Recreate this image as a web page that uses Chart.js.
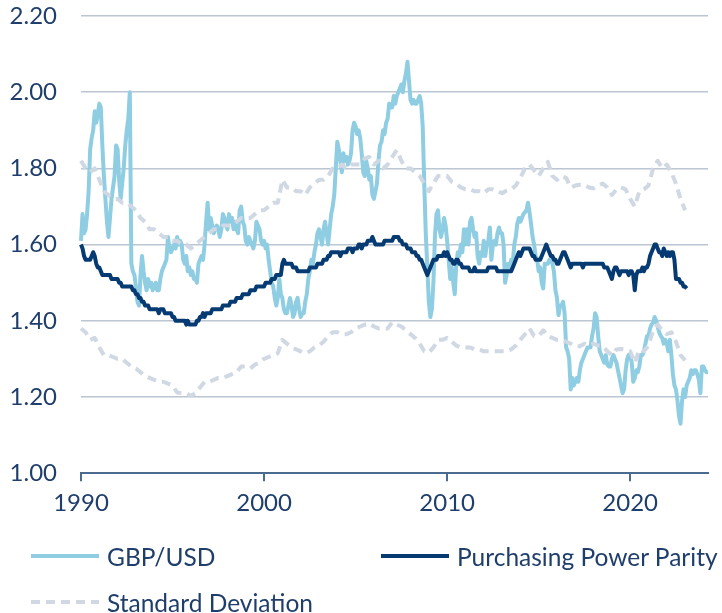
<!DOCTYPE html>
<html>
<head>
<meta charset="utf-8">
<script src="https://cdn.jsdelivr.net/npm/chart.js@4.4.1/dist/chart.umd.min.js"></script>
<style>
  html, body { margin: 0; padding: 0; background: #ffffff; }
  #wrap { position: relative; width: 722px; height: 613px; overflow: hidden; }
  #c { position: absolute; left: 0; top: 0; }
  #legend { position: absolute; left: 0; top: 0; width: 722px; height: 613px; pointer-events: none;
            font-family: Lato, sans-serif; font-size: 24.5px; color: #1f3e6c; }
  .item { position: absolute; display: flex; align-items: center; white-space: nowrap; height: 30px; }
  .item svg { display: block; margin-right: 8px; }
</style>
</head>
<body>
<div id="wrap">
  <canvas id="c" width="722" height="613"></canvas>
  <div id="legend"></div>
</div>
<script>
// ---- DATA (monthly from Jan 1990) ----
const startYear = 1990;
const seriesNames = ['GBP/USD', 'Purchasing Power Parity', 'Standard Deviation'];
const xTickYears = [1990, 2000, 2010, 2020];

const gbpUsd = [
  1.61,1.68,1.63,1.64,1.68,1.74,1.85,1.88,1.90,1.95,1.92,1.94,
  1.97,1.96,1.86,1.78,1.72,1.66,1.62,1.67,1.72,1.75,1.78,1.86,
  1.85,1.77,1.72,1.76,1.80,1.86,1.90,1.93,2.00,1.55,1.53,1.52,
  1.49,1.45,1.44,1.52,1.57,1.53,1.50,1.48,1.51,1.49,1.50,1.48,
  1.49,1.50,1.48,1.48,1.51,1.53,1.54,1.55,1.56,1.62,1.59,1.58,
  1.59,1.60,1.59,1.62,1.60,1.61,1.60,1.56,1.55,1.57,1.53,1.54,
  1.52,1.53,1.51,1.51,1.50,1.55,1.56,1.57,1.56,1.60,1.66,1.71,
  1.64,1.67,1.65,1.63,1.64,1.65,1.64,1.62,1.64,1.68,1.67,1.65,
  1.64,1.68,1.66,1.67,1.64,1.66,1.64,1.63,1.69,1.70,1.66,1.65,
  1.61,1.60,1.62,1.61,1.60,1.59,1.61,1.66,1.65,1.64,1.61,1.60,
  1.61,1.59,1.60,1.56,1.53,1.50,1.49,1.46,1.44,1.46,1.51,1.47,
  1.46,1.43,1.42,1.42,1.44,1.46,1.44,1.41,1.42,1.45,1.46,1.43,
  1.41,1.42,1.42,1.45,1.47,1.51,1.53,1.56,1.55,1.58,1.60,1.63,
  1.64,1.62,1.60,1.64,1.66,1.63,1.60,1.64,1.68,1.70,1.73,1.80,
  1.87,1.85,1.82,1.79,1.84,1.82,1.83,1.81,1.82,1.84,1.90,1.92,
  1.91,1.89,1.90,1.88,1.84,1.79,1.78,1.82,1.80,1.77,1.78,1.73,
  1.72,1.74,1.76,1.82,1.86,1.87,1.90,1.89,1.92,1.93,1.97,1.96,
  1.96,1.99,1.97,1.99,2.00,2.01,2.02,2.00,2.03,2.05,2.08,2.03,
  1.98,1.97,1.98,1.97,1.97,1.98,1.99,1.97,1.91,1.76,1.63,1.54,
  1.45,1.41,1.43,1.50,1.62,1.68,1.69,1.64,1.62,1.64,1.67,1.65,
  1.61,1.56,1.51,1.54,1.50,1.47,1.55,1.58,1.57,1.60,1.58,1.64,
  1.60,1.64,1.60,1.66,1.67,1.64,1.62,1.63,1.57,1.55,1.58,1.57,
  1.61,1.57,1.60,1.61,1.645,1.56,1.60,1.61,1.60,1.63,1.645,1.63,
  1.63,1.60,1.50,1.52,1.55,1.53,1.56,1.55,1.60,1.62,1.655,1.67,
  1.66,1.67,1.68,1.685,1.69,1.71,1.685,1.655,1.62,1.60,1.57,1.56,
  1.53,1.54,1.50,1.485,1.55,1.55,1.55,1.56,1.56,1.55,1.53,1.48,
  1.46,1.415,1.44,1.44,1.45,1.42,1.33,1.32,1.30,1.22,1.25,1.23,
  1.24,1.25,1.24,1.27,1.29,1.30,1.31,1.32,1.33,1.33,1.33,1.36,
  1.38,1.42,1.41,1.36,1.32,1.31,1.30,1.29,1.31,1.285,1.28,1.28,
  1.30,1.31,1.30,1.29,1.27,1.25,1.23,1.21,1.22,1.27,1.30,1.31,
  1.31,1.29,1.24,1.25,1.27,1.265,1.28,1.31,1.31,1.32,1.34,1.36,
  1.36,1.38,1.39,1.395,1.41,1.40,1.385,1.37,1.36,1.355,1.34,1.35,
  1.34,1.32,1.35,1.31,1.26,1.23,1.22,1.19,1.15,1.13,1.19,1.22,
  1.20,1.23,1.24,1.25,1.27,1.26,1.27,1.27,1.26,1.245,1.21,1.28,
  1.28,1.27,1.265,1.265
];

const ppp = [
  1.60,1.59,1.57,1.56,1.56,1.56,1.56,1.57,1.58,1.57,1.55,1.54,
  1.54,1.53,1.52,1.52,1.52,1.52,1.52,1.52,1.51,1.51,1.51,1.51,
  1.51,1.50,1.50,1.49,1.49,1.49,1.49,1.49,1.49,1.49,1.48,1.48,
  1.47,1.47,1.46,1.46,1.45,1.45,1.44,1.44,1.44,1.43,1.43,1.43,
  1.43,1.43,1.43,1.42,1.43,1.43,1.43,1.42,1.42,1.42,1.42,1.42,
  1.41,1.41,1.40,1.40,1.40,1.40,1.40,1.40,1.40,1.39,1.40,1.39,
  1.39,1.39,1.39,1.39,1.40,1.40,1.41,1.41,1.42,1.41,1.42,1.42,
  1.42,1.42,1.43,1.43,1.43,1.43,1.43,1.43,1.43,1.44,1.44,1.44,
  1.44,1.44,1.45,1.45,1.45,1.45,1.46,1.46,1.46,1.46,1.47,1.47,
  1.47,1.47,1.47,1.48,1.48,1.48,1.48,1.49,1.49,1.49,1.49,1.49,
  1.49,1.50,1.50,1.50,1.50,1.51,1.51,1.51,1.52,1.52,1.52,1.52,
  1.55,1.56,1.55,1.55,1.55,1.55,1.55,1.54,1.54,1.54,1.53,1.53,
  1.53,1.53,1.53,1.53,1.53,1.53,1.54,1.54,1.54,1.54,1.54,1.55,
  1.55,1.55,1.55,1.56,1.56,1.56,1.57,1.57,1.58,1.58,1.58,1.58,
  1.58,1.58,1.57,1.58,1.58,1.58,1.58,1.59,1.59,1.59,1.58,1.59,
  1.59,1.59,1.60,1.60,1.59,1.60,1.60,1.60,1.61,1.61,1.61,1.62,
  1.61,1.60,1.60,1.60,1.60,1.60,1.60,1.61,1.61,1.61,1.61,1.61,
  1.61,1.62,1.62,1.62,1.62,1.61,1.61,1.60,1.60,1.60,1.59,1.59,
  1.59,1.58,1.58,1.58,1.57,1.57,1.56,1.56,1.55,1.54,1.53,1.52,
  1.53,1.54,1.55,1.56,1.56,1.56,1.57,1.57,1.57,1.57,1.58,1.57,
  1.58,1.57,1.56,1.56,1.55,1.55,1.56,1.56,1.55,1.55,1.54,1.54,
  1.54,1.54,1.54,1.53,1.53,1.53,1.54,1.53,1.53,1.53,1.53,1.53,
  1.53,1.53,1.53,1.54,1.54,1.54,1.54,1.54,1.54,1.53,1.53,1.53,
  1.53,1.53,1.53,1.53,1.53,1.53,1.53,1.54,1.55,1.56,1.57,1.58,
  1.57,1.58,1.59,1.59,1.59,1.59,1.59,1.58,1.57,1.57,1.56,1.56,
  1.56,1.56,1.57,1.58,1.59,1.60,1.59,1.58,1.57,1.57,1.56,1.56,
  1.55,1.55,1.56,1.57,1.58,1.58,1.57,1.56,1.55,1.54,1.55,1.55,
  1.55,1.55,1.55,1.55,1.55,1.54,1.55,1.55,1.55,1.55,1.55,1.55,
  1.55,1.55,1.55,1.55,1.55,1.55,1.55,1.54,1.54,1.54,1.53,1.52,
  1.51,1.53,1.54,1.54,1.53,1.52,1.53,1.53,1.53,1.53,1.53,1.52,
  1.53,1.53,1.52,1.48,1.52,1.53,1.53,1.53,1.54,1.53,1.54,1.54,
  1.55,1.57,1.58,1.59,1.60,1.60,1.59,1.58,1.58,1.57,1.59,1.58,
  1.57,1.58,1.57,1.58,1.58,1.56,1.51,1.51,1.51,1.50,1.50,1.49,
  1.49,1.485
];

// Standard deviation bands, quarterly (Jan, Apr, Jul, Oct)
const sdUpper = [
  1.82,1.80,1.79,1.80,  1.77,1.74,1.73,1.72,  1.72,1.71,1.71,1.70,  1.69,1.67,1.66,1.64,
  1.64,1.63,1.62,1.62,  1.61,1.61,1.60,1.60,  1.59,1.60,1.61,1.62,  1.63,1.64,1.64,1.65,
  1.65,1.65,1.66,1.67,  1.67,1.67,1.68,1.69,  1.69,1.70,1.71,1.71,  1.77,1.75,1.75,1.74,
  1.74,1.73,1.75,1.76,  1.77,1.77,1.78,1.80,  1.80,1.81,1.80,1.81,  1.81,1.81,1.826,1.83,
  1.81,1.82,1.80,1.81,  1.83,1.848,1.82,1.80, 1.80,1.79,1.78,1.76,  1.74,1.76,1.78,1.78,
  1.78,1.765,1.76,1.75, 1.745,1.745,1.74,1.74, 1.735,1.745,1.745,1.74, 1.735,1.742,1.745,1.755,
  1.775,1.80,1.81,1.795, 1.78,1.80,1.817,1.78, 1.77,1.78,1.775,1.75, 1.755,1.757,1.757,1.75,
  1.748,1.755,1.76,1.75, 1.73,1.745,1.75,1.745, 1.72,1.70,1.74,1.745, 1.755,1.80,1.82,1.80,
  1.81,1.79,1.76,1.72,  1.69
];
const sdLower = [
  1.38,1.37,1.35,1.355, 1.33,1.31,1.31,1.305, 1.30,1.30,1.29,1.28,  1.275,1.265,1.255,1.25,
  1.245,1.24,1.24,1.235, 1.23,1.212,1.21,1.21, 1.203,1.21,1.225,1.24, 1.24,1.245,1.25,1.25,
  1.255,1.26,1.265,1.28, 1.28,1.275,1.285,1.29, 1.30,1.305,1.31,1.315, 1.35,1.34,1.33,1.325,
  1.32,1.315,1.32,1.33, 1.335,1.345,1.36,1.37, 1.37,1.365,1.365,1.37, 1.38,1.385,1.39,1.393,
  1.385,1.38,1.38,1.38, 1.396,1.39,1.385,1.375, 1.365,1.355,1.34,1.32, 1.317,1.33,1.35,1.35,
  1.355,1.345,1.335,1.33, 1.33,1.33,1.325,1.325, 1.32,1.32,1.32,1.32, 1.32,1.32,1.325,1.335,
  1.35,1.365,1.38,1.36, 1.36,1.375,1.36,1.355, 1.35,1.35,1.345,1.34, 1.333,1.333,1.34,1.335,
  1.34,1.335,1.333,1.32, 1.31,1.325,1.326,1.325, 1.32,1.29,1.325,1.32, 1.335,1.375,1.39,1.375,
  1.365,1.37,1.345,1.31, 1.296
];

// ---- build category labels (one per month) ----
const monthLabels = gbpUsd.map((_, i) => (startYear + Math.floor(i / 12)) + '-' + (i % 12 + 1));
const quarterly = arr => arr.map((v, i) => ({ x: monthLabels[i * 3], y: v }));

// ---- styles ----
const colGbp = '#8fcde2';
const colPpp = '#053a72';
const colSd = '#cfd8e3';
const colText = '#1f3e6c';
const colGrid = '#bcc6d3';
const colAxis = '#4b6a8f';
const FONT = 'Lato, "Open Sans", sans-serif';

function build() {
  const chart = new Chart(document.getElementById('c'), {
    type: 'line',
    data: {
      labels: monthLabels,
      datasets: [
        { label: seriesNames[1], data: ppp, borderColor: colPpp, borderWidth: 4, order: 0 },
        { label: seriesNames[2], data: quarterly(sdUpper), borderColor: colSd, borderWidth: 4, borderDash: [9, 6], order: 1 },
        { label: seriesNames[2] + ' (lower)', data: quarterly(sdLower), borderColor: colSd, borderWidth: 4, borderDash: [9, 6], order: 1 },
        { label: seriesNames[0], data: gbpUsd, borderColor: colGbp, borderWidth: 4, order: 2 }
      ]
    },
    options: {
      responsive: false,
      animation: false,
      devicePixelRatio: 1,
      layout: { padding: { top: 16, right: 14, bottom: 87, left: 0 } },
      elements: { point: { radius: 0 }, line: { tension: 0, borderJoinStyle: 'round', borderCapStyle: 'butt' } },
      plugins: { legend: { display: false }, tooltip: { enabled: false } },
      scales: {
        x: {
          type: 'category',
          offset: false,
          grid: { drawOnChartArea: false, drawTicks: true, tickLength: 8, color: colAxis, lineWidth: 2 },
          border: { display: true, color: colAxis, width: 2 },
          ticks: {
            autoSkip: false, maxRotation: 0, minRotation: 0, padding: 8,
            color: colText, font: { family: FONT, size: 24 },
            callback: function (value) {
              const lab = this.getLabelForValue(value);
              const parts = lab.split('-');
              const yr = Number(parts[0]), mo = Number(parts[1]);
              return (mo === 1 && xTickYears.includes(yr)) ? String(yr) : null;
            }
          }
        },
        y: {
          min: 1.0, max: 2.2,
          afterFit: s => { s.width = 81; },
          grid: {
            drawTicks: true, tickLength: 24, tickColor: 'rgba(0,0,0,0)', lineWidth: 1.5,
            color: c => (c.tick && Math.abs(c.tick.value - 1) < 1e-6) ? 'rgba(0,0,0,0)' : colGrid
          },
          border: { display: false },
          ticks: {
            stepSize: 0.2, padding: 0, color: colText, font: { family: FONT, size: 24 },
            callback: v => Number(v).toFixed(2)
          }
        }
      }
    }
  });

  // ---- HTML legend built from the chart's datasets ----
  const legendSlots = [
    { ds: 3, left: 31, top: 556 },
    { ds: 0, left: 381, top: 556 },
    { ds: 1, left: 31, top: 602 }
  ];
  const legend = document.getElementById('legend');
  legendSlots.forEach(slot => {
    const ds = chart.data.datasets[slot.ds];
    const item = document.createElement('div');
    item.className = 'item';
    item.style.left = slot.left + 'px';
    item.style.top = (slot.top - 15) + 'px';
    const ns = 'http://www.w3.org/2000/svg';
    const svg = document.createElementNS(ns, 'svg');
    svg.setAttribute('width', '68'); svg.setAttribute('height', '10');
    const line = document.createElementNS(ns, 'line');
    line.setAttribute('x1', '0'); line.setAttribute('x2', '68');
    line.setAttribute('y1', '5'); line.setAttribute('y2', '5');
    line.setAttribute('stroke', ds.borderColor);
    line.setAttribute('stroke-width', ds.borderWidth);
    if (ds.borderDash) line.setAttribute('stroke-dasharray', ds.borderDash.join(' '));
    svg.appendChild(line);
    const span = document.createElement('span');
    span.textContent = slot.ds === 1 ? seriesNames[2] : ds.label;
    item.appendChild(svg);
    item.appendChild(span);
    legend.appendChild(item);
  });
}

if (document.fonts && document.fonts.load) {
  document.fonts.load('24px Lato').then(build, build);
} else {
  build();
}
</script>
</body>
</html>
